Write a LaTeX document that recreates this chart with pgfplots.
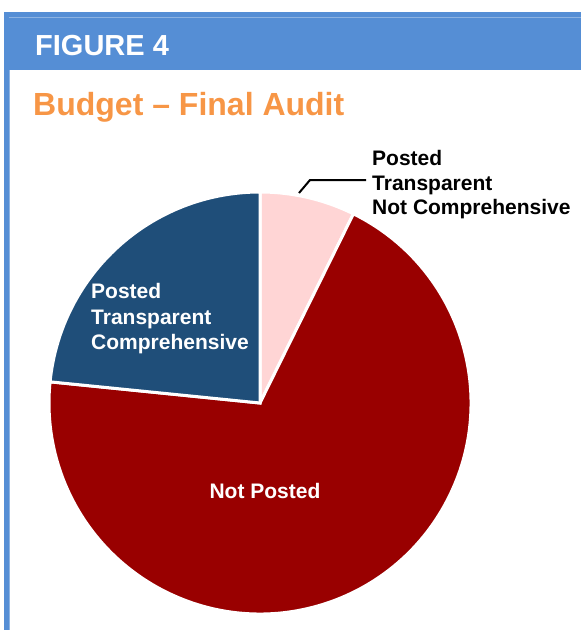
\documentclass[border=0pt]{standalone}
\usepackage{pgfplots}
\pgfplotsset{compat=1.18}
\usepackage{pgfplotstable}
\usepackage{fontspec}
\setmainfont{Liberation Sans}

\definecolor{headblue}{HTML}{558ED5}
\definecolor{headlight}{HTML}{8DB3E2}
\definecolor{titleorange}{HTML}{F79646}
\definecolor{slicepink}{HTML}{FFD5D5}
\definecolor{slicered}{HTML}{990000}
\definecolor{sliceblue}{HTML}{1F4E79}

% shares of the pie, in percent, clockwise from 12 o'clock
\pgfplotstableread{
slice     value
notcomp   7.3
notposted 69.3
comp      23.4
}\piedata

\pgfplotstablegetelem{0}{value}\of\piedata \let\va\pgfplotsretval
\pgfplotstablegetelem{1}{value}\of\piedata \let\vb\pgfplotsretval
\pgfplotstablegetelem{2}{value}\of\piedata \let\vc\pgfplotsretval
\pgfmathsetmacro\aA{90}
\pgfmathsetmacro\aB{\aA-3.6*\va}
\pgfmathsetmacro\aC{\aB-3.6*\vb}
\pgfmathsetmacro\aD{\aC-3.6*\vc}

\begin{document}
\begin{tikzpicture}
\begin{axis}[
    width=581pt, height=630pt, scale only axis,
    xmin=0, xmax=581, ymin=0, ymax=630,
    y dir=reverse,
    axis lines=none, ticks=none,
    clip=false,
]
% panel frame
\fill[headblue] (axis cs:4,12) rectangle (axis cs:581,70);
\draw[headlight, line width=1pt] (axis cs:9,17) -- (axis cs:581,17);
\fill[headblue] (axis cs:4,12) rectangle (axis cs:9,630);
\draw[headlight, line width=1pt] (axis cs:9.5,70) -- (axis cs:9.5,630);
\node[anchor=base west, text=white, font=\fontsize{29}{32}\selectfont\bfseries, inner sep=0pt]
    at (axis cs:35,55) {FIGURE 4};
\node[anchor=base west, text=titleorange, font=\fontsize{32}{36}\selectfont\bfseries, inner sep=0pt]
    at (axis cs:33,115) {Budget – Final Audit};

% pie
\begin{scope}[draw=white, line width=3pt, line join=miter]
\filldraw[fill=slicepink] (axis cs:260,403) -- ++(\aA:211pt)
    arc[start angle=\aA, end angle=\aB, radius=211pt] -- cycle;
\filldraw[fill=slicered] (axis cs:260,403) -- ++(\aB:211pt)
    arc[start angle=\aB, end angle=\aC, radius=211pt] -- cycle;
\filldraw[fill=sliceblue] (axis cs:260,403) -- ++(\aC:211pt)
    arc[start angle=\aC, end angle=\aD, radius=211pt] -- cycle;
\end{scope}

% labels
\begin{scope}[font=\fontsize{21}{25}\selectfont\bfseries]
\node[anchor=base west, text=white, inner sep=0pt] at (axis cs:91,298) {Posted};
\node[anchor=base west, text=white, inner sep=0pt] at (axis cs:91,324) {Transparent};
\node[anchor=base west, text=white, inner sep=0pt] at (axis cs:91,349) {Comprehensive};
\node[anchor=base, text=white, inner sep=0pt] at (axis cs:265,498) {Not Posted};
\node[anchor=base west, inner sep=0pt] at (axis cs:372,165) {Posted};
\node[anchor=base west, inner sep=0pt] at (axis cs:372,190) {Transparent};
\node[anchor=base west, inner sep=0pt] at (axis cs:372,214) {Not Comprehensive};
\end{scope}
\draw[black, line width=2pt] (axis cs:299,193) -- (axis cs:310,180) -- (axis cs:366,180);
\end{axis}
\pgfresetboundingbox
\path[use as bounding box] (current axis.south west) rectangle (current axis.north east);
\end{tikzpicture}
\end{document}
